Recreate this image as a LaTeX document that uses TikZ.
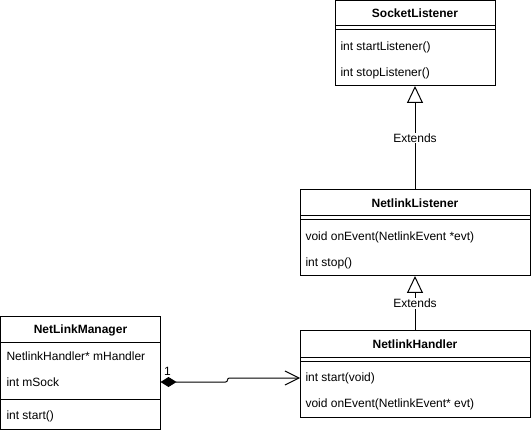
\documentclass[tikz,border=0pt]{standalone}
\usepackage{fontspec}
\setmainfont{Liberation Sans}
\usetikzlibrary{arrows.meta}

\begin{document}
\begin{tikzpicture}[x=1pt, y=-1pt, line width=1pt,
  box/.style={draw, anchor=north west, inner sep=0pt, outer sep=0pt},
  title/.style={font=\bfseries\fontsize{12}{14}\selectfont, inner sep=0pt},
  member/.style={anchor=west, font=\fontsize{12}{14}\selectfont, inner sep=0pt},
  lbl/.style={font=\fontsize{12}{14}\selectfont, fill=white, inner sep=1pt},
  extends/.style={-{Triangle[open, length=17pt, width=16pt]}},
  owns/.style={{Diamond[length=16pt, width=10pt]}-{Straight Barb[length=14pt, width=14pt]}}]
\useasboundingbox (0,0) rectangle (531,433);

% SocketListener
\node[box, minimum width=160, minimum height=85.5] (socket) at (335,0.5) {};
\node[title] at (415,13) {SocketListener};
\draw (socket.north west) ++(0,25.5) -- ++(160,0);
\draw (socket.north west) ++(0,29.5) -- ++(160,0);
\node[member] at (340,47) {int startListener()};
\node[member] at (340,73) {int stopListener()};

% NetlinkListener
\node[box, minimum width=230, minimum height=86] (listener) at (300,190) {};
\node[title] at (415,203) {NetlinkListener};
\draw (listener.north west) ++(0,26) -- ++(230,0);
\draw (listener.north west) ++(0,30) -- ++(230,0);
\node[member] at (305,237) {void onEvent(NetlinkEvent *evt)};
\node[member] at (305,263) {int stop()};

% NetlinkHandler
\node[box, minimum width=230, minimum height=86] (handler) at (300,331) {};
\node[title] at (415,344) {NetlinkHandler};
\draw (handler.north west) ++(0,26) -- ++(230,0);
\draw (handler.north west) ++(0,30) -- ++(230,0);
\node[member] at (305,378) {int start(void)};
\node[member] at (305,404) {void onEvent(NetlinkEvent* evt)};

% NetLinkManager
\node[box, minimum width=160, minimum height=112] (manager) at (0.5,317) {};
\node[title] at (80.5,330) {NetLinkManager};
\draw (manager.north west) ++(0,26) -- ++(160,0);
\draw (manager.north west) ++(0,82) -- ++(160,0);
\node[member] at (6,356) {NetlinkHandler* mHandler};
\node[member] at (6,382) {int mSock};
\node[member] at (6,416) {int start()};

% Inheritance
\draw[extends] (listener.north) -- node[lbl] {Extends} (socket.south);
\draw[extends] (handler.north) -- node[lbl] {Extends} (listener.south);

% Composition
\draw[owns, rounded corners=2pt] ([yshift=-9pt]manager.east)
  -- node[at start, anchor=south west, xshift=2pt, yshift=5pt, font=\fontsize{12}{14}\selectfont, inner sep=1pt] {1} ++(67,0)
  -- ++(0,-4) -- ([yshift=-4pt]handler.west);
\end{tikzpicture}
\end{document}
